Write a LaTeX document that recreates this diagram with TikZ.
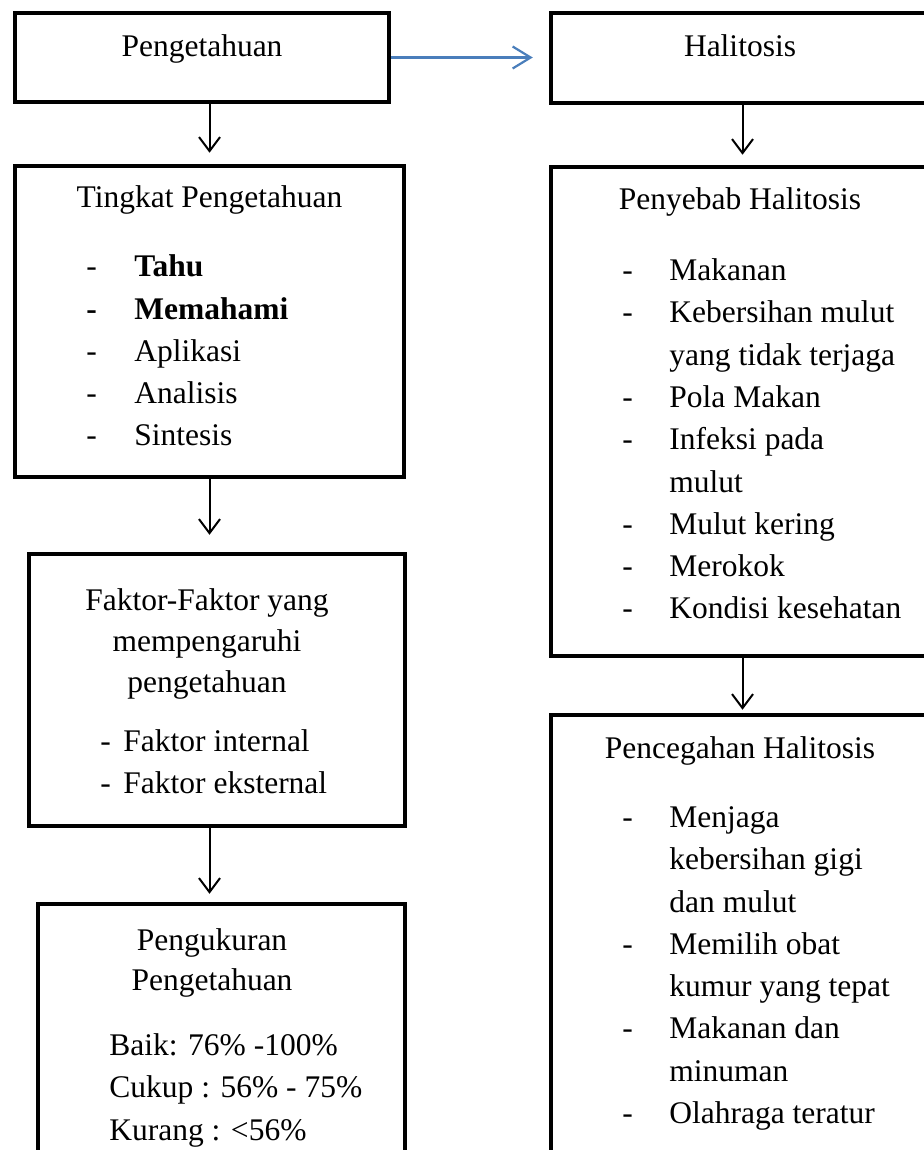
\documentclass[tikz,border=0pt]{standalone}
\usepackage{fontspec}
\setmainfont{Liberation Serif}
\usetikzlibrary{arrows.meta,fit}
\definecolor{wordblue}{HTML}{4A7EBB}

\begin{document}
\begin{tikzpicture}[x = .5pt, y = -.5pt,
  box/.style = {draw, line width = 2.25pt, inner sep = 0pt},
  txt/.style = {font = \fontsize{15.75}{19}\selectfont, inner sep = 0pt},
  lft/.style = {txt, anchor = base west},
  mid/.style = {txt, anchor = base},
  flow/.style = {line width = 1pt, -{Straight Barb[length = 7pt, width = 10.5pt]}}]
  \useasboundingbox (0, 0) rectangle (924, 1150);
  \clip (0, 0) rectangle (924, 1150);

  % left column
  \node[box, fit = {(15, 13) (389, 102)}] (pengetahuan) {};
  \node[box, fit = {(15, 166) (404, 477)}] (tingkat) {};
  \node[box, fit = {(29, 554) (405, 826)}] (faktor) {};
  \node[box, fit = {(38, 904) (405, 1200)}] (pengukuran) {};

  % right column
  \node[box, fit = {(551, 13) (928, 103)}] (halitosis) {};
  \node[box, fit = {(551, 167) (928, 656)}] (penyebab) {};
  \node[box, fit = {(551, 715) (928, 1200)}] (pencegahan) {};

  \node[mid] (pengetahuan-t) at (202, 57) {Pengetahuan};
  \node[mid] (halitosis-t) at (740, 57) {Halitosis};

  \node[mid] (tingkat-t) at (209.5, 208) {Tingkat Pengetahuan};
  \foreach \y/\d/\t [count = \i] in {277/-/{\textbf{Tahu}},
    319/{\textbf{-}}/{\textbf{Memahami}}, 361/-/Aplikasi, 403/-/Analisis,
    445/-/Sintesis}
  {
    \node[lft] (tingkat-d\i) at (86, \y) {\d};
    \node[lft] (tingkat-\i) at (134, \y) {\t};
  }

  \node[mid] (faktor-t1) at (207, 610) {Faktor-Faktor yang};
  \node[mid] (faktor-t2) at (207, 651) {mempengaruhi};
  \node[mid] (faktor-t3) at (207, 692) {pengetahuan};
  \node[lft] (faktor-d1) at (100, 751) {-};
  \node[lft] (faktor-1) at (123, 751) {Faktor internal};
  \node[lft] (faktor-d2) at (100, 793) {-};
  \node[lft] (faktor-2) at (123, 793) {Faktor eksternal};

  \node[mid] (pengukuran-t1) at (212, 950) {Pengukuran};
  \node[mid] (pengukuran-t2) at (212, 990) {Pengetahuan};
  \node[lft] (pengukuran-1) at (109, 1055) {Baik: 76\% -100\%};
  \node[lft] (pengukuran-2) at (109, 1097) {Cukup : 56\% - 75\%};
  \node[lft] (pengukuran-3) at (109, 1140) {Kurang : <56\%};

  \node[mid] (penyebab-t) at (740, 210) {Penyebab Halitosis};
  \foreach \y/\d/\t [count = \i] in {280/-/Makanan,
    322/-/Kebersihan mulut, 365//yang tidak terjaga, 407/-/Pola Makan,
    449/-/Infeksi pada, 492//mulut, 534/-/Mulut kering, 576/-/Merokok,
    618/-/Kondisi kesehatan}
  {
    \node[lft] (penyebab-d\i) at (622, \y) {\d};
    \node[lft] (penyebab-\i) at (669, \y) {\t};
  }

  \node[mid] (pencegahan-t) at (740, 758) {Pencegahan Halitosis};
  \foreach \y/\d/\t [count = \i] in {827/-/Menjaga,
    869//kebersihan gigi, 912//dan mulut, 954/-/Memilih obat,
    996//kumur yang tepat, 1038/-/Makanan dan, 1081//minuman,
    1123/-/Olahraga teratur}
  {
    \node[lft] (pencegahan-d\i) at (622, \y) {\d};
    \node[lft] (pencegahan-\i) at (669, \y) {\t};
  }

  % arrows
  \draw[flow, wordblue, line width = 1.1pt, shorten > = 8pt,
  -{Straight Barb[length = 9pt, width = 11pt]}]
  (pengetahuan.east) -- (halitosis.west |- pengetahuan.east);
  \draw[flow, shorten > = 5.5pt] (pengetahuan.south -| tingkat.north) --
  (tingkat.north);
  \draw[flow, shorten > = 8.5pt] (tingkat.south) --
  (tingkat.south |- faktor.north);
  \draw[flow, shorten > = 4pt] (faktor.south -| tingkat.south) --
  (tingkat.south |- pengukuran.north);
  \draw[flow, shorten > = 5pt] ([xshift = 1.5pt]halitosis.south) --
  ([xshift = 1.5pt]penyebab.north);
  \draw[flow, shorten > = 1.5pt] ([xshift = 1.5pt]penyebab.south) --
  ([xshift = 1.5pt]pencegahan.north);
\end{tikzpicture}
\end{document}
